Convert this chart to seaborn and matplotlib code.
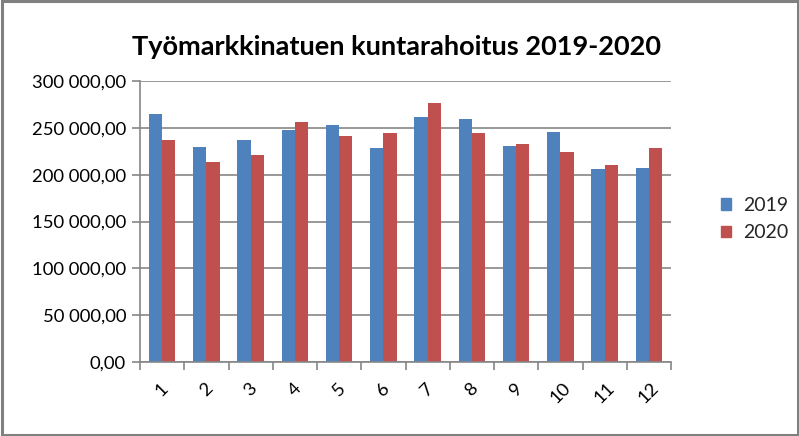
import matplotlib
matplotlib.use("Agg")
import matplotlib.pyplot as plt
import seaborn as sns
import pandas as pd
from matplotlib.ticker import FuncFormatter, MultipleLocator, FixedLocator
from matplotlib.patches import Rectangle

months = ["1", "2", "3", "4", "5", "6", "7", "8", "9", "10", "11", "12"]
values_2019 = [265000, 230000, 237500, 248000, 252500, 229000, 262000, 259800, 231000, 246000, 206500, 207600]
values_2020 = [236500, 214000, 220500, 256700, 241800, 245000, 276000, 245000, 232500, 223800, 209800, 229000]
series_names = ["2019", "2020"]
colors = ["#4F81BD", "#C0504D"]
title = "Työmarkkinatuen kuntarahoitus 2019-2020"

df = pd.DataFrame({
    "month": months * 2,
    "value": values_2019 + values_2020,
    "year": [series_names[0]] * 12 + [series_names[1]] * 12,
})

sns.set_theme(style="white")
plt.rcParams["font.family"] = ["Lato", "DejaVu Sans"]

fig = plt.figure(figsize=(7.99, 4.36), dpi=100)
ax = fig.add_axes([140 / 799, 1 - 362 / 436, (671 - 140) / 799, (362 - 81) / 436])

sns.barplot(data=df, x="month", y="value", hue="year", palette=colors,
            width=0.6, saturation=1, ax=ax, errorbar=None, order=months,
            hue_order=series_names)
for p in ax.patches:
    p.set_edgecolor("none")

ax.set_ylim(0, 300000)
ax.set_xlim(-0.5, 11.5)
ax.yaxis.set_major_locator(MultipleLocator(50000))
ax.yaxis.set_major_formatter(FuncFormatter(lambda v, _: f"{int(v):,}".replace(",", " ") + ",00"))
ax.grid(axis="y", color="#868686", linewidth=1.2)
ax.set_axisbelow(True)
ax.set_xlabel("")
ax.set_ylabel("")
for s in ["top", "right"]:
    ax.spines[s].set_visible(False)
for s in ["left", "bottom"]:
    ax.spines[s].set_color("#868686")
    ax.spines[s].set_linewidth(1.2)

ax.tick_params(axis="y", which="major", length=6, width=1.2, color="#868686",
               labelsize=13.3, pad=4, left=True, labelcolor="#000000")
ax.tick_params(axis="x", which="major", length=0, labelsize=13.3, pad=13, labelcolor="#000000")
ax.xaxis.set_minor_locator(FixedLocator([i - 0.5 for i in range(13)]))
ax.tick_params(axis="x", which="minor", length=6, width=1.2, color="#868686", bottom=True)
for lbl in ax.get_xticklabels():
    lbl.set_rotation(45)
    lbl.set_ha("center")
    lbl.set_va("top")

ax.legend_.remove()
handles = [Rectangle((0, 0), 1, 1, color=c) for c in colors]
fig.legend(handles, series_names, loc="center left", bbox_to_anchor=(703 / 799, 1 - 219 / 436),
           frameon=False, fontsize=14, handlelength=0.55, handleheight=0.55,
           handletextpad=0.6, labelspacing=0.55)

fig.text(396 / 799, 1 - 47 / 436, title, ha="center", va="center",
         fontsize=19.5, fontweight="bold", color="#000000")

fig.add_artist(Rectangle((1.5 / 799, 1.5 / 436), 796 / 799, 433 / 436, transform=fig.transFigure,
                         fill=False, edgecolor="#808080", linewidth=2.2))

fig.savefig("out.png", dpi=100)
